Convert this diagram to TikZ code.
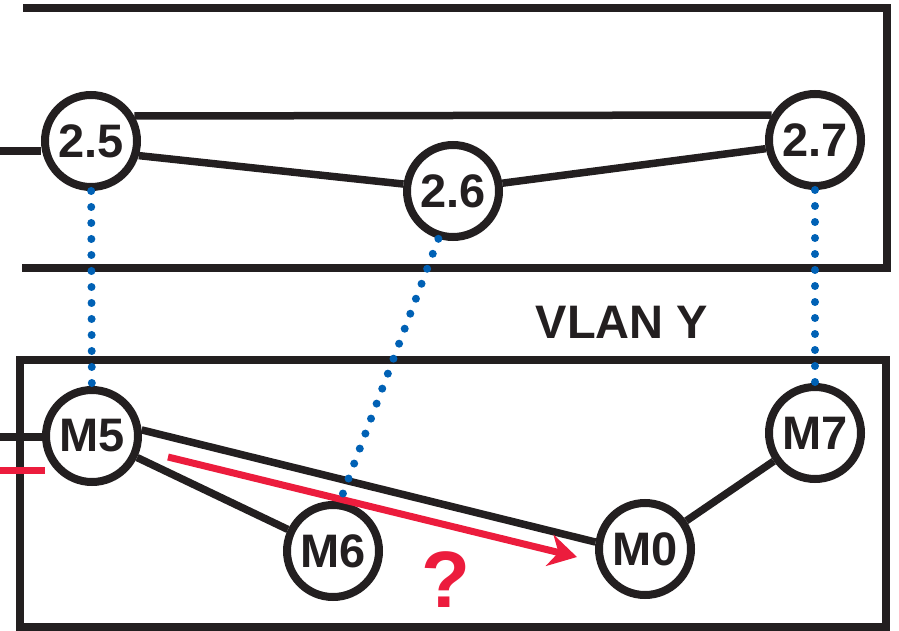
\documentclass[tikz,border=0pt]{standalone}
\usepackage{fontspec}
\setmainfont{Liberation Sans}
\usetikzlibrary{arrows.meta}
\definecolor{ink}{HTML}{231F20}
\definecolor{linkblue}{HTML}{0061B5}
\definecolor{alertred}{HTML}{EC1C3D}

\begin{document}
\begin{tikzpicture}[x = 1pt, y = -1pt, line width = 7.5pt, color = ink,
                        sw/.style = {circle, draw = ink, fill = white, line width = 8pt, minimum size = 92pt, inner sep = 0pt,
                                     font = \fontsize{47}{47}\selectfont\bfseries},
                        link/.style = {draw = ink, line width = 7.5pt},
                        vlan/.style = {draw = linkblue, line width = 8pt, line cap = round, dash pattern = on 0pt off 16pt},
                        probe/.style = {draw = alertred, line width = 7pt,
                                        -{Stealth[length = 28pt, width = 32pt, inset = 9pt]}}]
      \useasboundingbox (0, 0) rectangle (899, 631);

      % the two boxes
      \draw (23, 8) -- (887, 8) -- (887, 268) -- (22, 268);
      \draw (20, 360) rectangle (886, 627);
      \node [font = \fontsize{47}{47}\selectfont\bfseries] (vy) at (622, 322){VLAN Y};

      % upper switches
      \node [sw] (n25) at (91, 141){2.5};
      \node [sw] (n26) at (453, 191){2.6};
      \node [sw] (n27) at (815, 140){2.7};

      % lower switches
      \node [sw] (m5) at (92, 436){M5};
      \node [sw] (m6) at (333, 551){M6};
      \node [sw] (m0) at (645, 549){M0};
      \node [sw] (m7) at (815, 433){M7};

      \coordinate (l25) at (0, 151);
      \coordinate (lm5) at (0, 437);
      \coordinate (rs) at (0, 470);
      \coordinate (re) at (45, 470);
      \coordinate (qs) at (168, 457);
      \coordinate (qe) at (577, 557);

      \draw [link] (l25) -- (n25.west |- l25);
      \draw [link] (n25.30) -- (n27.150);
      \draw [link] (n25.-17) -- (n26.172);
      \draw [link] (n26.9) -- (n27.190);

      \draw [link] (lm5) -- (m5.west |- lm5);
      \draw [link] (m5.7) -- (m0.172);
      \draw [link] (m5) -- (m6);
      \draw [link] (m0) -- (m7);

      \draw [draw = alertred, line width = 7pt] (rs) -- (re);
      \draw [probe] (qs) -- (qe);
      \node [text = alertred, font = \fontsize{80}{80}\selectfont\bfseries] (qm) at (446, 580){?};

      \draw [vlan] (n25) -- (m5);
      \draw [vlan] (n26.-107) -- (m6.82);
      \draw [vlan] (n27) -- (m7);
    \end{tikzpicture}
\end{document}
